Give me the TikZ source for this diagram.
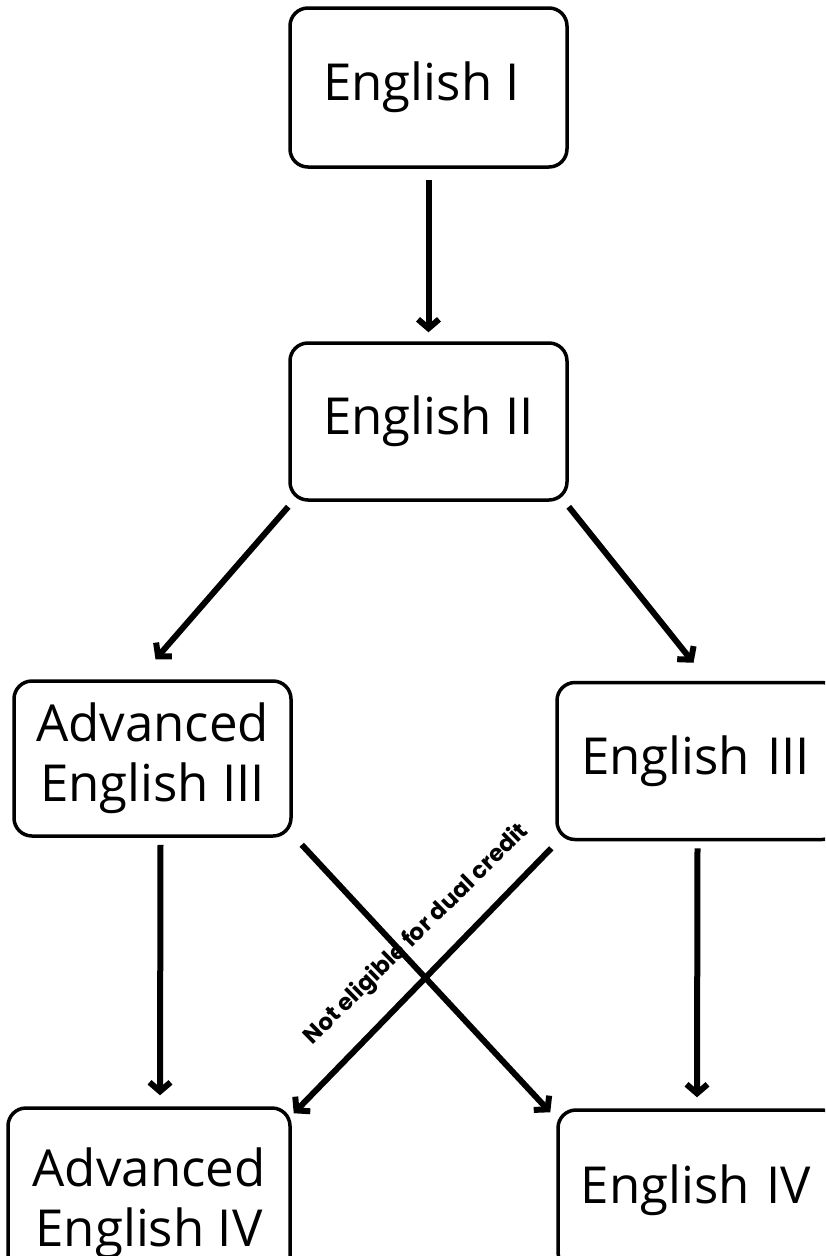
\documentclass[tikz,border=0pt]{standalone}
\usepackage{fontspec}
\setmainfont{Open Sans}
\newfontfamily\labelfont{Poppins}[UprightFont=* Bold]
\usetikzlibrary{arrows.meta,calc}
\begin{document}
\begin{tikzpicture}[x=1pt,y=-1pt,
  box/.style={draw=black, line width=3.5pt, rounded corners=18pt, fill=white,
    inner sep=0pt, align=center, font=\fontsize{51}{60}\selectfont},
  arr/.style={line width=6pt, -{Straight Barb[length=9pt,width=21pt,line width=6pt]}}]
\useasboundingbox (0,0) rectangle (825,1256);
\begin{scope}
\clip (0,0) rectangle (825,1256);
\node[box, minimum width=277pt, minimum height=159pt] (e1) at (428.5,87.5) {\hspace*{-14pt}English I};
\node[box, minimum width=277pt, minimum height=157pt] (e2) at (428.5,421.5) {English II};
\node[box, minimum width=277pt, minimum height=155pt] (a3) at (152.5,758.5) {Advanced\\English III};
\node[box, minimum width=283pt, minimum height=157pt, text width=283pt] (e3) at (698.5,761) {\hspace*{-6pt}English III};
\node[box, minimum width=282pt, minimum height=190pt] (a4) at (149,1203) {Advanced\\English IV};
\node[box, minimum width=282pt, minimum height=160pt, text width=282pt] (e4) at (699,1190) {\hspace*{-6pt}English IV};
\end{scope}
\draw[arr] ($(e1.south)+(0,11)$) -- ($(e2.north)+(0,-9)$);
\draw[arr] ($(e2.south west)+(0,5)$) -- ($(a3.north)+(3,-20)$);
\draw[arr] ($(e2.south east)+(0,5)$) -- ($(e3.north)+(-5,-18)$);
\draw[arr] ($(a3.south)+(8,7)$) -- ($(a4.north)+(11,-11)$);
\draw[arr] ($(e3.south)+(-1,7)$) -- ($(e4.north)+(-2,-11)$);
\draw[arr] ($(a3.south east)+(9,7)$) -- ($(e4.north west)+(-6,4)$);
\draw[arr] ($(e3.south west)+(-4,7)$) -- ($(a4.north east)+(2,7)$);
\node[rotate=44.5, font=\labelfont\fontsize{23}{26}\selectfont, inner sep=0pt, anchor=base] (lbl) at (421,939) {Not eligible for dual credit};
\end{tikzpicture}
\end{document}
